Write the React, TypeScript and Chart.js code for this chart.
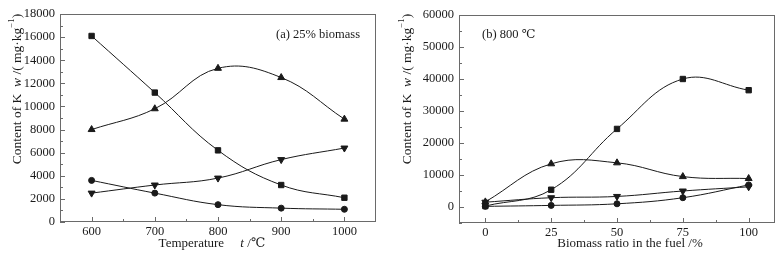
import React, { useEffect, useRef } from "react";
import { Chart, registerables } from "chart.js";

Chart.register(...registerables);

// ---------- data: panel (a) 25% biomass ----------
const tempCategories = [600, 700, 800, 900, 1000];
const tempSquare = [16100, 11200, 6200, 3200, 2100];
const tempTriUp = [8000, 9800, 13300, 12500, 8900];
const tempTriDown = [2500, 3200, 3800, 5400, 6400];
const tempCircle = [3600, 2500, 1500, 1200, 1100];
const tempTicks = [600, 700, 800, 900, 1000];
const tempMinorTicks = [650, 750, 850, 950];
const wTicksA = [0, 2000, 4000, 6000, 8000, 10000, 12000, 14000, 16000, 18000];
const wMinorTicksA = [1000, 3000, 5000, 7000, 9000, 11000, 13000, 15000, 17000];

// ---------- data: panel (b) 800 ℃ ----------
const ratioCategories = [0, 25, 50, 75, 100];
const ratioSquare = [300, 5400, 24400, 40000, 36500];
const ratioTriUp = [1600, 13500, 13800, 9500, 8900];
const ratioTriDown = [1500, 2900, 3300, 5000, 6300];
const ratioCircle = [200, 500, 1000, 2900, 6900];
const ratioTicks = [0, 25, 50, 75, 100];
const ratioMinorTicks = [12.5, 37.5, 62.5, 87.5];
const wTicksB = [0, 10000, 20000, 30000, 40000, 50000, 60000];
const wMinorTicksB = [-5000, 5000, 15000, 25000, 35000, 45000, 55000];

const SERIF = '"Liberation Serif", "Times New Roman", "DejaVu Serif", serif';
const INK = "#1a1a1a";
const FRAME = "#6a6a6a";

type Part = { t: string; italic?: boolean; sup?: boolean };

function drawParts(
  ctx: CanvasRenderingContext2D,
  parts: Part[],
  size: number,
  startX: number,
  y: number
) {
  let x = startX;
  for (const p of parts) {
    const s = p.sup ? size * 0.65 : size;
    ctx.font = `${p.italic ? "italic " : ""}${s}px ${SERIF}`;
    ctx.fillText(p.t, x, p.sup ? y - size * 0.38 : y);
    x += ctx.measureText(p.t).width;
  }
}

function measureParts(ctx: CanvasRenderingContext2D, parts: Part[], size: number) {
  let w = 0;
  for (const p of parts) {
    const s = p.sup ? size * 0.65 : size;
    ctx.font = `${p.italic ? "italic " : ""}${s}px ${SERIF}`;
    w += ctx.measureText(p.t).width;
  }
  return w;
}

const yTitleParts: Part[] = [
  { t: "Content of K" },
  { t: "  " },
  { t: "w", italic: true },
  { t: " /( mg·kg" },
  { t: "−1", sup: true },
  { t: ")" },
];

type PanelCfg = {
  xTitle: Part[];
  xTitleCenter: number;
  yTitleCenter: [number, number];
  note: string;
  noteX: number;
  noteY: number;
  xMajor: number[];
  xMinor: number[];
  yMajor: number[];
  yMinor: number[];
};

function framePlugin(cfg: PanelCfg) {
  return {
    id: "frameAndTitles",
    afterDatasetsDraw(chart: any) {
      const { ctx, chartArea } = chart;
      const { left, right, top, bottom } = chartArea;
      const xs = chart.scales.x;
      const ys = chart.scales.y;
      ctx.save();
      ctx.strokeStyle = FRAME;
      ctx.lineWidth = 1;
      ctx.strokeRect(left + 0.5, top + 0.5, right - left - 1, bottom - top - 1);
      ctx.beginPath();
      for (const v of cfg.xMajor) {
        const px = Math.round(xs.getPixelForValue(v)) + 0.5;
        ctx.moveTo(px, bottom);
        ctx.lineTo(px, bottom - 5);
      }
      for (const v of cfg.xMinor) {
        const px = Math.round(xs.getPixelForValue(v)) + 0.5;
        ctx.moveTo(px, bottom);
        ctx.lineTo(px, bottom - 3);
      }
      for (const v of cfg.yMajor) {
        const py = Math.round(ys.getPixelForValue(v)) + 0.5;
        ctx.moveTo(left, py);
        ctx.lineTo(left + 5, py);
      }
      for (const v of cfg.yMinor) {
        const py = Math.round(ys.getPixelForValue(v)) + 0.5;
        ctx.moveTo(left, py);
        ctx.lineTo(left + 3, py);
      }
      ctx.stroke();

      ctx.fillStyle = INK;
      ctx.textBaseline = "middle";
      ctx.textAlign = "left";
      const xw = measureParts(ctx, cfg.xTitle, 13);
      drawParts(ctx, cfg.xTitle, 13, cfg.xTitleCenter - xw / 2, 244);
      ctx.save();
      ctx.translate(cfg.yTitleCenter[0], cfg.yTitleCenter[1]);
      ctx.rotate(-Math.PI / 2);
      const yw = measureParts(ctx, yTitleParts, 13.5);
      drawParts(ctx, yTitleParts, 13.5, -yw / 2, 0);
      ctx.restore();
      ctx.font = `12.5px ${SERIF}`;
      ctx.fillText(cfg.note, cfg.noteX, cfg.noteY);
      ctx.restore();
    },
  };
}

function makeDatasets(xs: number[], sq: number[], tu: number[], td: number[], ci: number[]) {
  const base = {
    borderColor: INK,
    backgroundColor: INK,
    pointBackgroundColor: INK,
    pointBorderColor: INK,
    borderWidth: 1,
    pointBorderWidth: 1,
    tension: 0.4,
    fill: false,
  };
  const toPts = (ys: number[]) => xs.map((x, i) => ({ x, y: ys[i] }));
  return [
    { ...base, data: toPts(sq), pointStyle: "rect", pointRadius: 3.8 },
    { ...base, data: toPts(tu), pointStyle: "triangle", pointRadius: 4 },
    { ...base, data: toPts(td), pointStyle: "triangle", pointRotation: 180, pointRadius: 4 },
    { ...base, data: toPts(ci), pointStyle: "circle", pointRadius: 3 },
  ];
}

function buildOptions(o: {
  xMin: number;
  xMax: number;
  xTicks: number[];
  yMin: number;
  yMax: number;
  yTicks: number[];
  yWidth: number;
  xHeight: number;
  padding: { left: number; top: number; right: number; bottom: number };
}) {
  const tickFont = { family: SERIF, size: 12.5 };
  return {
    responsive: false,
    animation: false,
    devicePixelRatio: 1,
    layout: { padding: o.padding },
    plugins: { legend: { display: false }, tooltip: { enabled: false } },
    scales: {
      x: {
        type: "linear",
        min: o.xMin,
        max: o.xMax,
        grid: { display: false, drawTicks: false },
        border: { display: false },
        afterBuildTicks: (s: any) => {
          s.ticks = o.xTicks.map((v) => ({ value: v }));
        },
        afterFit: (s: any) => {
          s.height = o.xHeight;
        },
        ticks: {
          font: tickFont,
          color: INK,
          padding: 2,
          maxRotation: 0,
          autoSkip: false,
          callback: (v: any) => String(v),
        },
      },
      y: {
        type: "linear",
        min: o.yMin,
        max: o.yMax,
        grid: { display: false, drawTicks: false },
        border: { display: false },
        afterBuildTicks: (s: any) => {
          s.ticks = o.yTicks.map((v) => ({ value: v }));
        },
        afterFit: (s: any) => {
          s.width = o.yWidth;
        },
        ticks: {
          font: tickFont,
          color: INK,
          padding: 5,
          autoSkip: false,
          callback: (v: any) => String(v),
        },
      },
    },
  };
}

export default function App() {
  const leftRef = useRef<HTMLCanvasElement>(null);
  const rightRef = useRef<HTMLCanvasElement>(null);

  useEffect(() => {
    const charts: Chart[] = [];
    if (leftRef.current) {
      charts.push(
        new Chart(leftRef.current, {
          type: "line",
          data: { datasets: makeDatasets(tempCategories, tempSquare, tempTriUp, tempTriDown, tempCircle) as any },
          options: buildOptions({
            xMin: 550,
            xMax: 1050,
            xTicks: tempTicks,
            yMin: 0,
            yMax: 18000,
            yTicks: wTicksA,
            yWidth: 60,
            xHeight: 36,
            padding: { left: 0, top: 14, right: 14, bottom: 0 },
          }) as any,
          plugins: [
            framePlugin({
              xTitle: [{ t: "Temperature" }, { t: "     " }, { t: "t", italic: true }, { t: " /℃" }],
              xTitleCenter: 212,
              yTitleCenter: [17, 89],
              note: "(a) 25% biomass",
              noteX: 276,
              noteY: 35,
              xMajor: tempTicks,
              xMinor: tempMinorTicks,
              yMajor: wTicksA,
              yMinor: wMinorTicksA,
            }),
          ],
        })
      );
    }
    if (rightRef.current) {
      charts.push(
        new Chart(rightRef.current, {
          type: "line",
          data: { datasets: makeDatasets(ratioCategories, ratioSquare, ratioTriUp, ratioTriDown, ratioCircle) as any },
          options: buildOptions({
            xMin: -10,
            xMax: 110,
            xTicks: ratioTicks,
            yMin: -5000,
            yMax: 60000,
            yTicks: wTicksB,
            yWidth: 69,
            xHeight: 35,
            padding: { left: 0, top: 15, right: 6, bottom: 0 },
          }) as any,
          plugins: [
            framePlugin({
              xTitle: [{ t: "Biomass ratio in the fuel /%" }],
              xTitleCenter: 240,
              yTitleCenter: [17, 89],
              note: "(b) 800 ℃",
              noteX: 92,
              noteY: 35,
              xMajor: ratioTicks,
              xMinor: ratioMinorTicks,
              yMajor: wTicksB,
              yMinor: wMinorTicksB,
            }),
          ],
        })
      );
    }
    return () => charts.forEach((c) => c.destroy());
  }, []);

  return (
    <div style={{ position: "fixed", left: 0, top: 0, width: 781, height: 258, background: "#fff" }}>
      <div style={{ position: "absolute", left: 0, top: 0, width: 390, height: 258 }}>
        <canvas ref={leftRef} width={390} height={258} style={{ display: "block" }} />
      </div>
      <div style={{ position: "absolute", left: 390, top: 0, width: 391, height: 258 }}>
        <canvas ref={rightRef} width={391} height={258} style={{ display: "block" }} />
      </div>
    </div>
  );
}
